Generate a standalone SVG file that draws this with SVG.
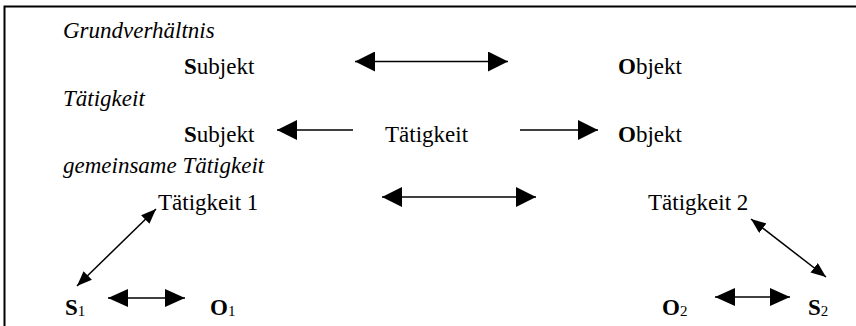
<svg xmlns="http://www.w3.org/2000/svg" width="856" height="326" viewBox="0 0 856 326">
<style>
  .t { font-family: "Times New Roman", Tinos, "Liberation Serif", serif; font-size: 23px; fill: #000; }
  .it { font-style: italic; }
  .b { font-weight: bold; }
  .sub { font-size: 15px; }
  .ln { stroke: #000; stroke-width: 1.6; fill: none; }
  .dg { stroke: #000; stroke-width: 1.5; fill: none; }
</style>
<defs>
  <marker id="big" viewBox="0 0 20 20" markerWidth="20" markerHeight="20" refX="20" refY="10" orient="auto-start-reverse" markerUnits="userSpaceOnUse">
    <path d="M0,0 L20,10 L0,20 z" fill="#000"/>
  </marker>
  <marker id="mid" viewBox="0 0 20 18" markerWidth="20" markerHeight="18" refX="20" refY="9" orient="auto-start-reverse" markerUnits="userSpaceOnUse">
    <path d="M0,0 L20,9 L0,18 z" fill="#000"/>
  </marker>
  <marker id="sm" viewBox="0 0 15 12" markerWidth="15" markerHeight="12" refX="15" refY="6" orient="auto-start-reverse" markerUnits="userSpaceOnUse">
    <path d="M0,0 L15,6 L0,12 z" fill="#000"/>
  </marker>
</defs>
<rect width="856" height="326" fill="#fff"/>
<path d="M4.5,326 L4.5,6.5 L856,6.5" stroke="#000" stroke-width="2" fill="none"/>

<g id="heading-grundverhaeltnis"><text class="t it" x="63" y="38">Grundverhältnis</text></g>
<g id="subjekt-1"><text class="t" x="184" y="74"><tspan class="b">S</tspan>ubjekt</text></g>
<g id="objekt-1"><text class="t" x="618" y="74"><tspan class="b">O</tspan>bjekt</text></g>

<g id="heading-taetigkeit"><text class="t it" x="63" y="106">Tätigkeit</text></g>
<g id="subjekt-2"><text class="t" x="184" y="142"><tspan class="b">S</tspan>ubjekt</text></g>
<g id="taetigkeit"><text class="t" x="385" y="142">Tätigkeit</text></g>
<g id="objekt-2"><text class="t" x="618" y="142"><tspan class="b">O</tspan>bjekt</text></g>

<g id="heading-gemeinsam"><text class="t it" x="63" y="173">gemeinsame Tätigkeit</text></g>
<g id="taetigkeit-1"><text class="t" x="158" y="210">Tätigkeit 1</text></g>
<g id="taetigkeit-2"><text class="t" x="648" y="210">Tätigkeit 2</text></g>
<g id="s1"><text class="t" x="65" y="315"><tspan class="b">S</tspan><tspan class="sub" dy="1">1</tspan></text></g>
<g id="o1"><text class="t" x="210" y="315"><tspan class="b">O</tspan><tspan class="sub" dy="1">1</tspan></text></g>
<g id="o2"><text class="t" x="662" y="315"><tspan class="b">O</tspan><tspan class="sub" dy="1">2</tspan></text></g>
<g id="s2"><text class="t" x="808" y="315"><tspan class="b">S</tspan><tspan class="sub" dy="1">2</tspan></text></g>

<g id="connectors">
  <line class="ln" x1="355" y1="61.5" x2="508" y2="61.5" marker-start="url(#big)" marker-end="url(#big)"/>
  <line class="ln" x1="353" y1="130" x2="277" y2="130" marker-end="url(#big)"/>
  <line class="ln" x1="520" y1="130" x2="598" y2="130" marker-end="url(#big)"/>
  <line class="ln" x1="382" y1="197" x2="536" y2="197" marker-start="url(#big)" marker-end="url(#big)"/>
  <line class="dg" x1="77" y1="286" x2="156" y2="209" marker-start="url(#sm)" marker-end="url(#sm)"/>
  <line class="dg" x1="751" y1="219" x2="826" y2="277" marker-start="url(#sm)" marker-end="url(#sm)"/>
  <line class="ln" x1="108" y1="298" x2="185" y2="298" marker-start="url(#mid)" marker-end="url(#mid)"/>
  <line class="ln" x1="715" y1="297" x2="790" y2="297" marker-start="url(#mid)" marker-end="url(#mid)"/>
</g>
</svg>
